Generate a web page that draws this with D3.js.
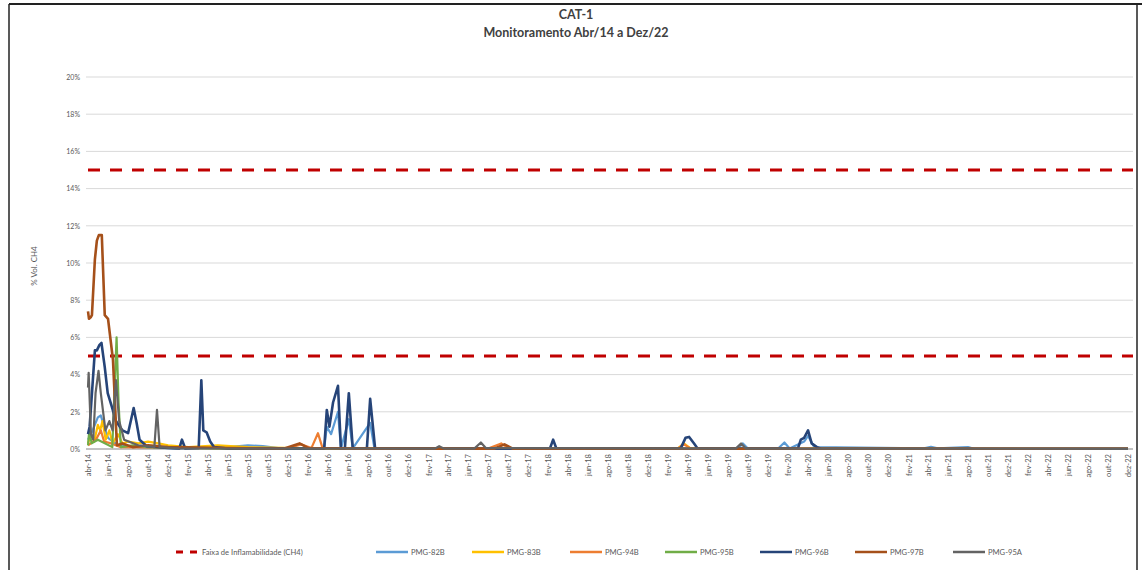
<!DOCTYPE html>
<html><head><meta charset="utf-8">
<script src="https://cdn.jsdelivr.net/npm/d3@7"></script>
<style>body{margin:0;background:#fff}svg{display:block}</style>
</head><body><svg id="c" width="1142" height="570"></svg>
<script>
const titleLines = ["CAT-1", "Monitoramento Abr/14 a Dez/22"];
const yTicks = [0, 2, 4, 6, 8, 10, 12, 14, 16, 18, 20];
const limitValues = [5, 15];
const limitLabel = "Faixa de Inflamabilidade (CH4)";
const seriesNames = ["PMG-82B", "PMG-83B", "PMG-94B", "PMG-95B", "PMG-96B", "PMG-97B", "PMG-95A"];
const seriesColors = ["#5B9BD5", "#FFC000", "#ED7D31", "#70AD47", "#264478", "#A5501A", "#636363"];
const monthNames = ["jan","fev","mar","abr","mai","jun","jul","ago","set","out","nov","dez"];

const pmg82B = [["2014-04-01",0.5],["2014-04-15",1.0],["2014-05-01",1.7],["2014-05-10",1.8],["2014-05-20",1.2],["2014-06-01",0.6],["2014-07-01",0.2],["2014-09-01",0.1],["2015-01-01",0.03],["2015-06-01",0.1],["2015-08-01",0.2],["2015-09-15",0.15],["2015-11-01",0.05],["2016-03-20",0.03],["2016-03-28",1.2],["2016-04-10",0.8],["2016-05-01",2.0],["2016-05-10",0.03],["2016-06-03",1.6],["2016-06-15",0.03],["2016-08-07",1.4],["2016-08-20",0.03],["2017-06-01",0.03],["2019-09-01",0.03],["2019-09-15",0.3],["2019-10-01",0.03],["2020-01-01",0.03],["2020-01-20",0.35],["2020-02-05",0.03],["2020-03-20",0.4],["2020-04-01",0.7],["2020-04-20",0.1],["2021-03-20",0.03],["2021-04-10",0.12],["2021-05-01",0.03],["2021-08-01",0.1],["2021-08-20",0.01],["2022-12-01",0.01]];
const pmg83B = [["2014-04-01",0.3],["2014-04-10",0.8],["2014-04-20",0.4],["2014-05-01",1.3],["2014-05-08",1.0],["2014-05-15",1.5],["2014-05-25",0.5],["2014-06-05",1.0],["2014-06-15",0.3],["2014-07-01",0.8],["2014-07-15",0.3],["2014-08-01",0.4],["2014-09-01",0.3],["2014-10-01",0.4],["2014-11-01",0.3],["2014-12-01",0.2],["2015-02-01",0.1],["2015-05-01",0.2],["2015-08-01",0.1],["2016-01-01",0.05],["2017-01-01",0.02],["2019-03-01",0.02],["2019-03-20",0.3],["2019-04-10",0.02],["2022-12-01",0.01]];
const pmg94B = [["2014-04-01",0.2],["2014-04-25",0.5],["2014-05-10",1.0],["2014-05-20",0.4],["2014-06-10",0.3],["2014-07-10",0.1],["2015-06-01",0.03],["2015-12-01",0.05],["2016-01-10",0.25],["2016-02-10",0.05],["2016-03-01",0.85],["2016-03-15",0.05],["2016-06-01",0.02],["2017-08-01",0.02],["2017-09-10",0.3],["2017-10-01",0.05],["2018-01-01",0.01],["2019-03-01",0.02],["2019-03-20",0.25],["2019-04-10",0.02],["2022-12-01",0.01]];
const pmg95B = [["2014-04-01",0.2],["2014-04-05",1.0],["2014-04-12",0.3],["2014-05-01",0.5],["2014-06-14",0.1],["2014-06-27",6.0],["2014-07-03",2.5],["2014-07-10",0.1],["2014-08-15",0.2],["2014-10-01",0.1],["2015-06-01",0.02],["2022-12-01",0.01]];
const pmg96B = [["2014-04-01",0.8],["2014-04-06",1.2],["2014-04-22",5.3],["2014-04-28",5.3],["2014-05-06",5.6],["2014-05-12",5.7],["2014-05-22",4.4],["2014-05-31",3.0],["2014-06-12",2.3],["2014-06-25",1.5],["2014-07-15",1.0],["2014-08-01",0.85],["2014-08-18",2.2],["2014-08-27",1.4],["2014-09-05",0.5],["2014-09-27",0.15],["2014-12-01",0.05],["2015-01-04",0.03],["2015-01-12",0.5],["2015-01-22",0.03],["2015-03-04",0.05],["2015-03-12",3.7],["2015-03-18",1.0],["2015-03-28",0.9],["2015-04-08",0.4],["2015-04-20",0.1],["2015-06-01",0.03],["2016-03-20",0.03],["2016-03-28",2.1],["2016-04-05",1.2],["2016-04-16",2.5],["2016-05-01",3.4],["2016-05-10",0.03],["2016-05-22",0.03],["2016-06-03",3.0],["2016-06-15",0.03],["2016-07-28",0.03],["2016-08-07",2.7],["2016-08-22",0.03],["2018-02-05",0.02],["2018-02-15",0.5],["2018-02-25",0.02],["2019-03-10",0.02],["2019-03-25",0.6],["2019-04-05",0.65],["2019-04-20",0.3],["2019-05-01",0.02],["2020-03-01",0.02],["2020-03-10",0.5],["2020-03-20",0.6],["2020-04-01",1.0],["2020-04-12",0.3],["2020-04-28",0.1],["2020-05-10",0.01],["2022-12-01",0.01]];
const pmg97B = [["2014-04-01",7.4],["2014-04-04",7.0],["2014-04-10",7.1],["2014-04-13",7.2],["2014-04-22",10.2],["2014-04-28",11.2],["2014-05-04",11.5],["2014-05-13",11.5],["2014-05-22",7.2],["2014-06-01",7.0],["2014-06-16",4.8],["2014-06-28",0.2],["2014-07-15",0.3],["2014-08-15",0.1],["2014-10-01",0.2],["2014-12-01",0.1],["2015-06-01",0.05],["2015-11-20",0.03],["2016-01-05",0.3],["2016-02-01",0.05],["2016-07-01",0.02],["2017-08-20",0.02],["2017-09-20",0.25],["2017-10-15",0.02],["2022-12-01",0.01]];
const pmg95A = [["2014-04-01",3.3],["2014-04-03",4.1],["2014-04-10",0.8],["2014-04-17",0.5],["2014-04-24",3.0],["2014-05-03",4.2],["2014-05-10",3.0],["2014-05-17",2.0],["2014-05-24",1.0],["2014-06-05",1.5],["2014-06-15",1.0],["2014-06-25",3.7],["2014-07-05",1.5],["2014-07-20",0.5],["2014-09-01",0.2],["2014-10-20",0.1],["2014-10-28",2.1],["2014-11-05",0.1],["2015-01-01",0.03],["2017-02-20",0.02],["2017-03-05",0.15],["2017-03-20",0.02],["2017-06-20",0.02],["2017-07-10",0.35],["2017-07-25",0.05],["2019-08-25",0.02],["2019-09-10",0.3],["2019-09-25",0.02],["2022-12-01",0.01]];
const seriesData = [pmg82B, pmg83B, pmg94B, pmg95B, pmg96B, pmg97B, pmg95A];

const tickDates = d3.timeMonth.range(new Date(2014,3,1), new Date(2022,11,2), 2);

const svg = d3.select("#c");
const font = "Lato, 'Open Sans', sans-serif";
const parse = d3.timeParse("%Y-%m-%d");
const x = d3.scaleTime().domain([new Date(2014,3,1), new Date(2022,11,1)]).range([88, 1128]);
const y = d3.scaleLinear().domain([0, 20]).range([449, 77]);
const plotRight = 1133, plotLeft = 86;

// frame
svg.append("line").attr("x1",9).attr("x2",1142).attr("y1",4).attr("y2",4).attr("stroke","#222").attr("stroke-width",2);
svg.append("line").attr("x1",9).attr("x2",9).attr("y1",4).attr("y2",570).attr("stroke","#222").attr("stroke-width",1.5);
svg.append("line").attr("x1",1137).attr("x2",1137).attr("y1",4).attr("y2",570).attr("stroke","#222").attr("stroke-width",1.5);

// title
svg.selectAll("text.title").data(titleLines).join("text")
  .attr("x", 576).attr("y",(d,i)=>19 + i*18).attr("text-anchor","middle")
  .attr("font-family", font).attr("font-weight","bold").attr("font-size", 12.5).attr("fill","#404040").text(d=>d);

// grid
svg.append("g").selectAll("line").data(yTicks.filter(d=>d>0)).join("line")
  .attr("x1",plotLeft).attr("x2",plotRight).attr("y1",d=>y(d)).attr("y2",d=>y(d))
  .attr("stroke","#d9d9d9").attr("stroke-width",1);

// y axis labels
const yAxis = d3.axisLeft(y).tickValues(yTicks).tickFormat(d=>d+"%").tickSize(0).tickPadding(0);
const gy = svg.append("g").attr("transform","translate(80,0)").call(yAxis);
gy.select(".domain").remove();
gy.selectAll("text").attr("font-family",font).attr("font-size",7).attr("fill","#595959");

svg.append("text").attr("transform","translate(37,266) rotate(-90)").attr("text-anchor","middle")
  .attr("font-family",font).attr("font-size",8).attr("fill","#595959").text("% Vol. CH4");

// x axis
const xAxis = d3.axisBottom(x).tickValues(tickDates).tickSize(0).tickPadding(0)
  .tickFormat(d=>monthNames[d.getMonth()]+"-"+String(d.getFullYear()).slice(2));
const gx = svg.append("g").attr("transform","translate(0,449)").call(xAxis);
gx.select(".domain").remove();
gx.selectAll("text").attr("font-family",font).attr("font-size",7.6).attr("fill","#595959")
  .attr("text-anchor","end").attr("dy","0.32em").attr("transform","translate(0,5) rotate(-90)");
svg.append("line").attr("x1",plotLeft).attr("x2",plotRight).attr("y1",y(0)).attr("y2",y(0)).attr("stroke","#868686").attr("stroke-width",1.2);

// limit lines
svg.append("g").selectAll("line").data(limitValues).join("line")
  .attr("x1",88).attr("x2",plotRight).attr("y1",d=>y(d)).attr("y2",d=>y(d))
  .attr("stroke","#C00000").attr("stroke-width",3).attr("stroke-dasharray","12,10");

// series
const line = d3.line().x(d=>x(parse(d[0]))).y(d=>y(d[1])).curve(d3.curveLinear);
svg.append("g").selectAll("path").data(seriesData).join("path")
  .attr("d", line).attr("fill","none")
  .attr("stroke",(d,i)=>seriesColors[i]).attr("stroke-width",(d,i)=> i===4||i===5 ? 2.6 : 2.2)
  .attr("stroke-linejoin","round");

// legend
const lg = svg.append("g").attr("font-family",font).attr("font-size",7.6).attr("fill","#595959");
lg.append("line").attr("x1",176).attr("x2",197).attr("y1",552).attr("y2",552).attr("stroke","#C00000").attr("stroke-width",3).attr("stroke-dasharray","7,7");
lg.append("text").attr("x",202).attr("y",554.5).text(limitLabel);
const legX = [376, 472, 570, 665, 760, 855, 953];
seriesNames.forEach((n,i)=>{
  lg.append("line").attr("x1",legX[i]).attr("x2",legX[i]+32).attr("y1",552).attr("y2",552).attr("stroke",seriesColors[i]).attr("stroke-width",2.5);
  lg.append("text").attr("x",legX[i]+35).attr("y",554.5).text(n);
});
</script></body></html>
